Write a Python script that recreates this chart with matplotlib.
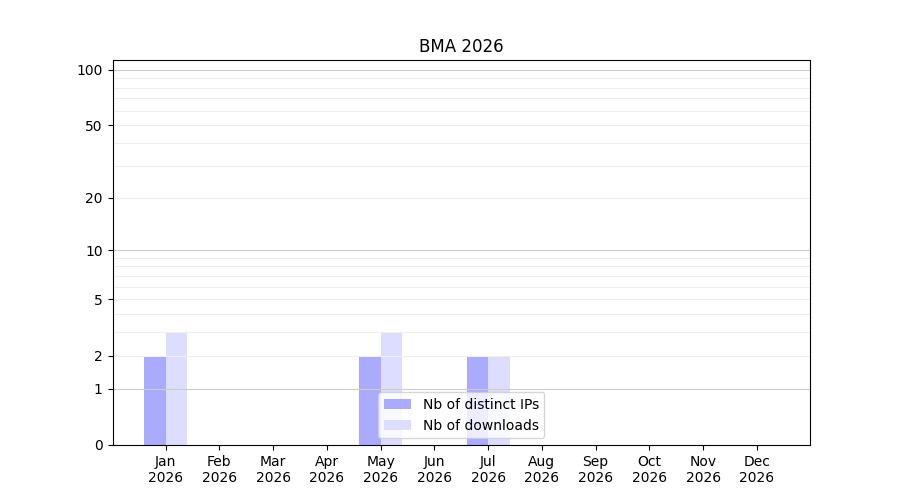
import numpy as np
import matplotlib
matplotlib.use('Agg')
import matplotlib.pyplot as plt

months = ['Jan', 'Feb', 'Mar', 'Apr', 'May', 'Jun',
          'Jul', 'Aug', 'Sep', 'Oct', 'Nov', 'Dec']
year = '2026'
distinct_ips = [2, 0, 0, 0, 2, 0, 2, 0, 0, 0, 0, 0]
downloads = [3, 0, 0, 0, 3, 0, 2, 0, 0, 0, 0, 0]
yticks = [0, 1, 2, 5, 10, 20, 50, 100]


def fwd(y):
    return np.log10(1 + np.maximum(y, 0))


def inv(t):
    return 10 ** t - 1


fig, ax = plt.subplots(figsize=(9, 5), dpi=100)
x = np.arange(len(months))
ax.bar(x - 0.2, distinct_ips, width=0.4, color='#aaaaff', label='Nb of distinct IPs')
ax.bar(x + 0.2, downloads, width=0.4, color='#ddddff', label='Nb of downloads')

ax.set_yscale('function', functions=(fwd, inv))
ax.set_ylim(0, 113)

# light lines for 2..9 and 20..90, darker for the decades
for d in [1, 10]:
    for k in range(2, 10):
        ax.axhline(k * d, color='#eeeeee', lw=0.8, zorder=1.5)
for d in [1, 10, 100]:
    ax.axhline(d, color='#cccccc', lw=0.8, zorder=1.5)

ax.set_yticks(yticks)
ax.set_yticklabels([str(t) for t in yticks])
ax.minorticks_off()
ax.set_xticks(x)
ax.set_xticklabels([m + '\n' + year for m in months])
ax.set_title('BMA ' + year)
ax.legend(loc='lower center')

fig.savefig('out.png')
